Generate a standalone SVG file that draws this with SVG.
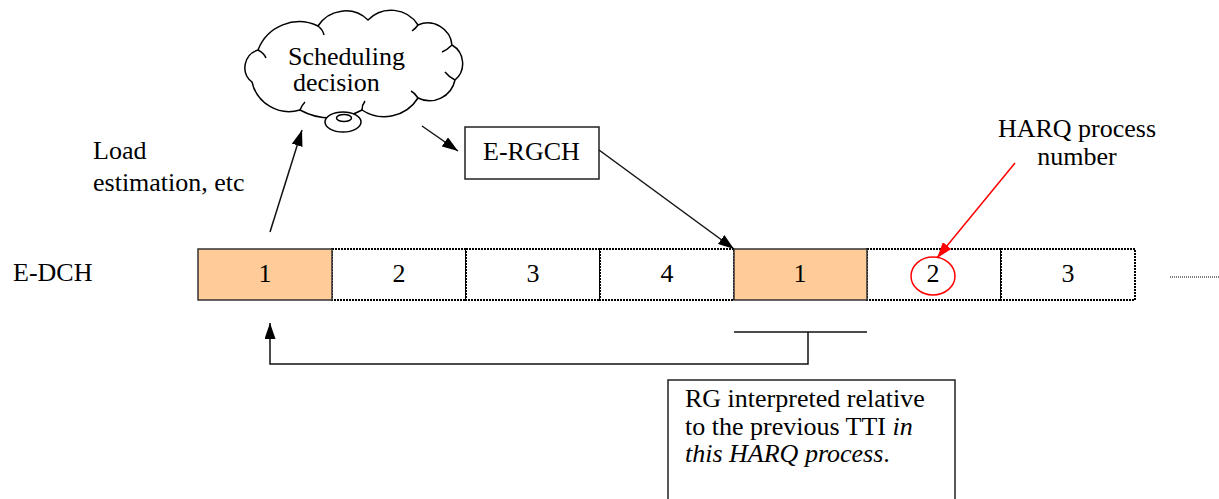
<svg xmlns="http://www.w3.org/2000/svg" width="1219" height="499" viewBox="0 0 1219 499">
<style>
text{font-family:"Liberation Serif","Times New Roman",serif;font-size:26px;fill:#000}
.it{font-style:italic}
.dot{fill:#fff;stroke:#000;stroke-width:2;stroke-dasharray:2 1}
.hl{fill:#FFCC99;stroke:#333;stroke-width:1.5}
.box{fill:#fff;stroke:#222;stroke-width:1.5}
.ln{fill:none;stroke:#111;stroke-width:1.5}
.rd{fill:none;stroke:#f00;stroke-width:1.5}
</style>
<defs>
<marker id="ah" viewBox="0 0 16 11" refX="16" refY="5.5" markerWidth="16" markerHeight="11" markerUnits="userSpaceOnUse" orient="auto"><path d="M0,0 L16,5.5 L0,11 z" fill="#000"/></marker>
<marker id="ahr" viewBox="0 0 16 11" refX="16" refY="5.5" markerWidth="16" markerHeight="11" markerUnits="userSpaceOnUse" orient="auto"><path d="M0,0 L16,5.5 L0,11 z" fill="#f00"/></marker>
</defs>
<rect width="1219" height="499" fill="#fff"/>

<g id="cloud">
<path d="M252,82 A18.3,18.3 0 0 1 258,50 A44,44 0 0 1 318,26 A32.5,32.5 0 0 1 368,20 A32,32 0 0 1 418,25 A24.4,24.4 0 0 1 452,45 A21.5,21.5 0 0 1 455,80 A26,26 0 0 1 418,98 A40,40 0 0 1 362,110 A64,64 0 0 1 300,110 A38,38 0 0 1 252,82 z" fill="#fff" stroke="#000" stroke-width="1.5"/>
<path d="M258,50 q6,3 8,8 M318,26 q5,4 6,9 M418,25 q-2,3 -6,6 M452,45 q-5,5 -10,7 M455,80 q-6,-3 -10,-8 M418,98 q-3,-5 -7,-7 M362,110 q0,-5 3,-9 M300,110 q2,-5 5,-8" fill="none" stroke="#000" stroke-width="1.5"/>
<ellipse cx="343" cy="122" rx="18" ry="10" fill="#fff" stroke="#000" stroke-width="1.5"/>
<ellipse cx="344" cy="118" rx="7.5" ry="3.5" fill="none" stroke="#000" stroke-width="1.5"/>
<text x="288" y="65">Scheduling</text>
<text x="293" y="91">decision</text>
</g>

<g id="load-label">
<text x="93" y="159">Load</text>
<text x="93" y="191">estimation, etc</text>
</g>

<g id="edch-label"><text x="13" y="281">E-DCH</text></g>

<g id="ergch">
<rect class="box" x="465" y="127" width="134" height="52"/>
<text x="483" y="160">E-RGCH</text>
</g>

<g id="harq-label">
<text x="1077" y="137" text-anchor="middle">HARQ process</text>
<text x="1077" y="165" text-anchor="middle">number</text>
</g>

<g id="tti2"><rect class="dot" x="332" y="249" width="134" height="51"/><text x="399" y="282" text-anchor="middle">2</text></g>
<g id="tti3"><rect class="dot" x="466" y="249" width="134" height="51"/><text x="533" y="282" text-anchor="middle">3</text></g>
<g id="tti4"><rect class="dot" x="600" y="249" width="134" height="51"/><text x="667" y="282" text-anchor="middle">4</text></g>
<g id="tti6"><rect class="dot" x="867" y="249" width="134" height="51"/><text x="933" y="282" text-anchor="middle">2</text></g>
<g id="tti7"><rect class="dot" x="1001" y="249" width="134" height="51"/><text x="1068" y="282" text-anchor="middle">3</text></g>
<g id="tti1"><rect class="hl" x="198" y="249" width="134" height="51"/><text x="265" y="282" text-anchor="middle">1</text></g>
<g id="tti5"><rect class="hl" x="734" y="249" width="133" height="51"/><text x="800" y="282" text-anchor="middle">1</text></g>
<g id="ellipsis"><line x1="1170" y1="277" x2="1219" y2="277" stroke="#000" stroke-width="1" stroke-dasharray="1 1"/></g>
<g id="harq-circle"><ellipse class="rd" cx="933" cy="276" rx="22" ry="19"/></g>

<g id="note">
<rect class="box" x="668" y="380" width="287" height="130"/>
<text x="685" y="407">RG interpreted relative</text>
<text x="685" y="435">to the previous TTI <tspan class="it">in</tspan></text>
<text x="685" y="462"><tspan class="it">this HARQ process</tspan>.</text>
</g>

<g id="connectors">
<line class="ln" x1="270" y1="232" x2="302" y2="130" marker-end="url(#ah)"/>
<line class="ln" x1="422" y1="126" x2="458" y2="151" marker-end="url(#ah)"/>
<line class="ln" x1="599" y1="150" x2="734" y2="249" marker-end="url(#ah)"/>
<line class="ln" x1="734" y1="332" x2="867" y2="332"/>
<path class="ln" d="M808,332 V364 H270 V323" marker-end="url(#ah)"/>
<line class="rd" x1="1015" y1="163" x2="937" y2="258" marker-end="url(#ahr)"/>
</g>
</svg>
